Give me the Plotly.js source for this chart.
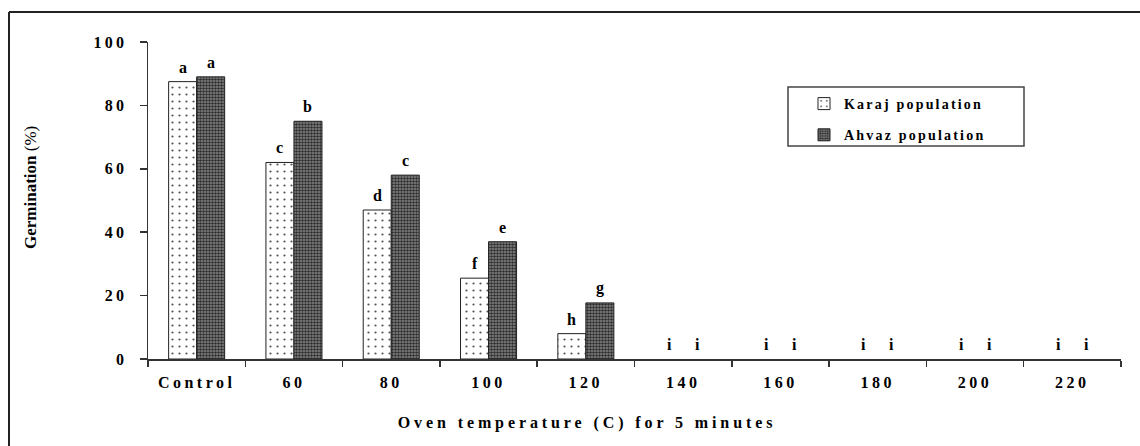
<!DOCTYPE html>
<html>
<head>
<meta charset="utf-8">
<script src="https://cdn.plot.ly/plotly-3.0.1.min.js"></script>
<style>
  html, body { margin: 0; padding: 0; background: #fff; }
  #plot { width: 1140px; height: 446px; }
  #plot .xtick text { letter-spacing: 3.5px; font-weight: 700; }
  #plot .ytick text { letter-spacing: 3.3px; font-weight: 700; }
  .legendtext { letter-spacing: 2.2px; }
  #plot .annotation[data-index="0"] text { letter-spacing: 3.9px; }
</style>
</head>
<body>
<div id="plot"></div>
<script>
// ---- data ----
var categories = ['Control', '60', '80', '100', '120', '140', '160', '180', '200', '220'];
var karajValues = [87.5, 62, 47, 25.5, 8, 0, 0, 0, 0, 0];
var ahvazValues = [89, 75, 58, 37, 17.7, 0, 0, 0, 0, 0];
var karajLetters = ['a', 'c', 'd', 'f', 'h', 'i', 'i', 'i', 'i', 'i'];
var ahvazLetters = ['a', 'b', 'c', 'e', 'g', 'i', 'i', 'i', 'i', 'i'];
var seriesNames = ['Karaj population', 'Ahvaz population'];
var yTickVals = [0, 20, 40, 60, 80, 100];
var xTitle = 'Oven temperature (C) for 5 minutes';
var yTitleBold = 'Germination';
var yTitleRest = '(%)';

// ---- layout constants ----
var W = 1140, H = 446;
var M = { l: 148, r: 19, t: 42, b: 87 };
var PW = W - M.l - M.r, PH = H - M.t - M.b;
function px(x) { return (x - M.l) / PW; }
function py(y) { return (H - M.b - y) / PH; }
function b(s) { return '<b>' + s + '</b>'; }

var serif = 'Liberation Serif, Times New Roman, serif';

function outlineWidths(vals) { return vals.map(function (v) { return v > 0 ? 1 : 0; }); }

var traces = [
  {
    type: 'bar', name: b(seriesNames[0]), x: categories, y: karajValues,
    legendgroup: 'k',
    marker: {
      color: '#ffffff',
      line: { color: '#222', width: outlineWidths(karajValues) },
      pattern: { shape: '.', fgcolor: '#555', bgcolor: '#ffffff', size: 7, solidity: 0.08 }
    },
    hoverinfo: 'x+y'
  },
  {
    type: 'bar', name: b(seriesNames[1]), x: categories, y: ahvazValues,
    legendgroup: 'a',
    marker: {
      color: '#808080',
      line: { color: '#222', width: outlineWidths(ahvazValues) },
      pattern: { shape: '.', fgcolor: '#2e2e2e', bgcolor: '#8a8a8a', size: 3, solidity: 0.55 }
    },
    hoverinfo: 'x+y'
  }
];

var annotations = [];
annotations.push({
  text: b(xTitle), xref: 'paper', yref: 'paper', x: px(587), y: py(423),
  xanchor: 'center', yanchor: 'middle', showarrow: false,
  font: { family: serif, size: 16, color: '#000' }
});
annotations.push({
  text: b(yTitleBold) + ' ' + yTitleRest, xref: 'paper', yref: 'paper',
  x: px(30), y: py(188), textangle: -90, xanchor: 'center', yanchor: 'middle', showarrow: false,
  font: { family: serif, size: 17, color: '#000' }
});
for (var i = 0; i < categories.length; i++) {
  annotations.push({
    text: b(karajLetters[i]), x: i, y: karajValues[i], xref: 'x', yref: 'y',
    xshift: -14, yshift: 4, xanchor: 'center', yanchor: 'bottom', showarrow: false,
    font: { family: serif, size: 16, color: '#000' }
  });
  annotations.push({
    text: b(ahvazLetters[i]), x: i, y: ahvazValues[i], xref: 'x', yref: 'y',
    xshift: 14, yshift: 4, xanchor: 'center', yanchor: 'bottom', showarrow: false,
    font: { family: serif, size: 16, color: '#000' }
  });
}

var shapes = [
  { type: 'line', xref: 'paper', yref: 'paper', x0: px(9), x1: px(1141), y0: py(12), y1: py(12), line: { color: '#222', width: 2 } },
  { type: 'line', xref: 'paper', yref: 'paper', x0: px(9), x1: px(9), y0: py(12), y1: py(447), line: { color: '#222', width: 2 } },
  { type: 'rect', xref: 'paper', yref: 'paper', x0: px(788), x1: px(1024), y0: py(87), y1: py(146), line: { color: '#444', width: 1.5 }, fillcolor: 'rgba(0,0,0,0)' }
];

var layout = {
  width: W, height: H,
  margin: M,
  paper_bgcolor: '#fff', plot_bgcolor: '#fff',
  barmode: 'group', bargap: 0.424, bargroupgap: 0,
  showlegend: true,
  legend: {
    x: px(804), y: py(88), xanchor: 'left', yanchor: 'top',
    bgcolor: 'rgba(0,0,0,0)', borderwidth: 0,
    tracegroupgap: 10,
    font: { family: serif, size: 14, color: '#000' }
  },
  xaxis: {
    type: 'category', range: [-0.5, 9.5],
    tickmode: 'array', tickvals: categories, ticktext: categories.map(b),
    showline: true, linecolor: '#333', linewidth: 1.5,
    ticks: 'outside', tickson: 'boundaries', ticklen: 6, tickcolor: '#333', tickwidth: 1.5,
    showgrid: false, zeroline: false, ticklabelstandoff: 8,
    tickfont: { family: serif, size: 16, color: '#000' }
  },
  yaxis: {
    range: [0, 100], tickmode: 'array', tickvals: yTickVals, ticktext: yTickVals.map(function (v) { return b(String(v)); }),
    showline: true, linecolor: '#333', linewidth: 1.5,
    ticks: 'outside', ticklen: 7, tickcolor: '#333', tickwidth: 1.5,
    showgrid: false, zeroline: false, ticklabelstandoff: 9,
    tickfont: { family: serif, size: 16, color: '#000' }
  },
  annotations: annotations,
  shapes: shapes
};

Plotly.newPlot('plot', traces, layout, { displayModeBar: false, staticPlot: true });
</script>
</body>
</html>
